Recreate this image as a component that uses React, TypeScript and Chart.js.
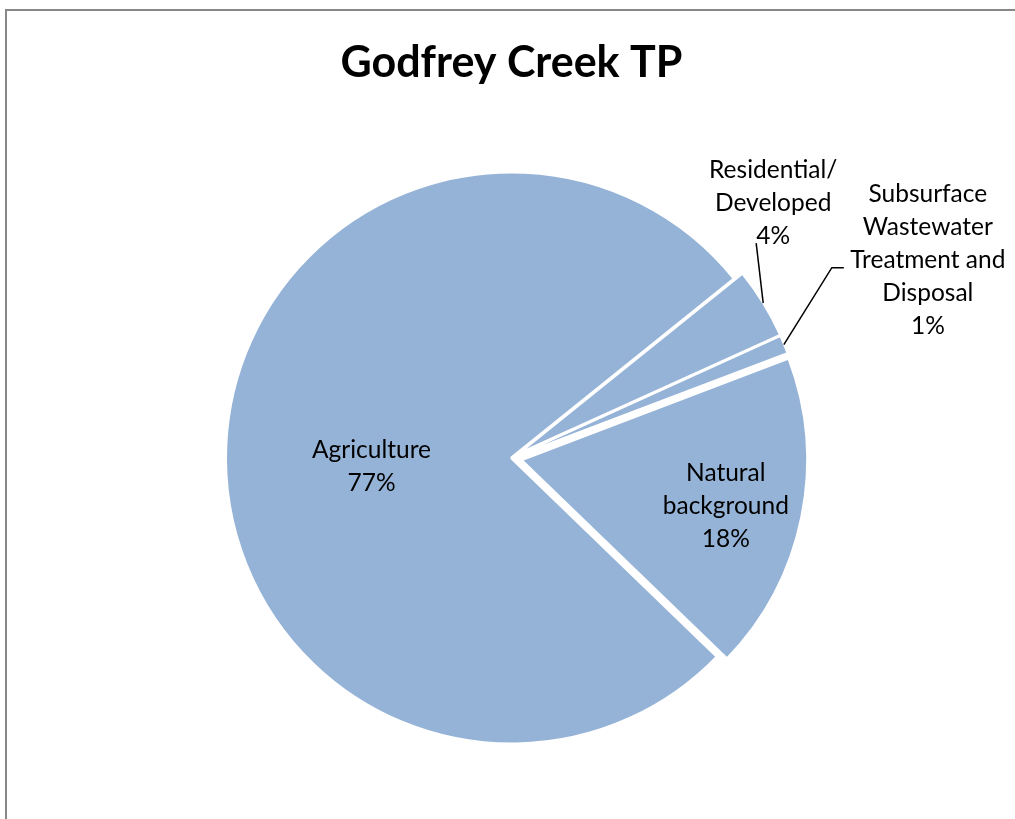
import React, { useEffect, useRef } from 'react';
import { Chart, registerables } from 'chart.js';

Chart.register(...registerables);

// ---- data ----
const chartTitle = 'Godfrey Creek TP';
const categories = [
  'Agriculture',
  'Residential/Developed',
  'Subsurface Wastewater Treatment and Disposal',
  'Natural background',
];
const categoryLabelLines = [
  ['Agriculture'],
  ['Residential/', 'Developed'],
  ['Subsurface', 'Wastewater', 'Treatment and', 'Disposal'],
  ['Natural', 'background'],
];
const values = [77, 4, 1, 18];

// ---- style ----
const FONT = 'Lato, "Open Sans", sans-serif';
const SLICE_COLOR = '#95B3D7';
const LABEL_SIZE = 24.5;
const LINE_HEIGHT = 33;
const explodeDist = [0, 9.5, 9, 10];
const borderWidths = [3, 2, 1.5, 2.5];
type Placement = { inside: boolean; frac?: number; dx: number; dy: number; leader?: number[][] };
const labelPlacement: Placement[] = [
  { inside: true, frac: 0.49, dx: 0, dy: 15 },
  { inside: false, dx: 10, dy: -100, leader: [[-17, 40]] },
  { inside: false, dx: 144, dy: -85, leader: [[-96, 8], [-84, 8]] },
  { inside: true, frac: 0.73, dx: 0, dy: 4 },
];

const framePlugin = {
  id: 'chartFrame',
  beforeDraw(chart: any) {
    const ctx = chart.ctx;
    ctx.save();
    ctx.fillStyle = '#ffffff';
    ctx.fillRect(0, 0, chart.width, chart.height);
    ctx.strokeStyle = '#888888';
    ctx.lineWidth = 2;
    ctx.beginPath();
    ctx.moveTo(6, chart.height + 5);
    ctx.lineTo(6, 10);
    ctx.lineTo(chart.width + 5, 10);
    ctx.stroke();
    ctx.restore();
  },
};

const explodePlugin = {
  id: 'explodeSlices',
  beforeDatasetDraw(chart: any, args: any) {
    const ctx = chart.ctx;
    args.meta.data.forEach((arc: any, i: number) => {
      const d = explodeDist[i] || 0;
      const mid = (arc.startAngle + arc.endAngle) / 2;
      ctx.save();
      ctx.translate(Math.cos(mid) * d, Math.sin(mid) * d);
      arc.draw(ctx);
      ctx.restore();
    });
    return false;
  },
};

const labelPlugin = {
  id: 'sliceLabels',
  afterDatasetsDraw(chart: any) {
    const ctx = chart.ctx;
    const meta = chart.getDatasetMeta(0);
    const total = values.reduce((a, b) => a + b, 0);
    meta.data.forEach((arc: any, i: number) => {
      const { x, y, startAngle, endAngle, outerRadius } = arc.getProps(
        ['x', 'y', 'startAngle', 'endAngle', 'outerRadius'],
        true
      );
      const mid = (startAngle + endAngle) / 2;
      const d = explodeDist[i] || 0;
      const vx = x + Math.cos(mid) * d;
      const vy = y + Math.sin(mid) * d;
      const p = labelPlacement[i];
      const lines = [...categoryLabelLines[i], `${Math.round((values[i] / total) * 100)}%`];
      let cx: number;
      let cy: number;
      ctx.save();
      if (p.inside) {
        const r = outerRadius * (p.frac || 0.5);
        cx = vx + Math.cos(mid) * r + p.dx;
        cy = vy + Math.sin(mid) * r + p.dy;
      } else {
        const ex = vx + Math.cos(mid) * outerRadius;
        const ey = vy + Math.sin(mid) * outerRadius;
        cx = ex + p.dx;
        cy = ey + p.dy;
        ctx.beginPath();
        ctx.moveTo(ex, ey);
        (p.leader || []).forEach((pt) => ctx.lineTo(cx + pt[0], cy + pt[1]));
        ctx.strokeStyle = '#000';
        ctx.lineWidth = 1.5;
        ctx.stroke();
      }
      ctx.fillStyle = '#000';
      ctx.font = `${LABEL_SIZE}px ${FONT}`;
      ctx.textAlign = 'center';
      ctx.textBaseline = 'middle';
      const startY = cy - ((lines.length - 1) * LINE_HEIGHT) / 2;
      lines.forEach((ln, k) => ctx.fillText(ln, cx, startY + k * LINE_HEIGHT));
      ctx.restore();
    });
  },
};

export default function App() {
  const canvasRef = useRef<HTMLCanvasElement | null>(null);

  useEffect(() => {
    if (!canvasRef.current) return;
    const chart = new Chart(canvasRef.current, {
      type: 'pie',
      data: {
        labels: categories,
        datasets: [
          {
            data: values,
            backgroundColor: SLICE_COLOR,
            borderColor: '#ffffff',
            borderWidth: borderWidths,
            radius: 286,
            rotation: 134,
          } as any,
        ],
      },
      options: {
        responsive: false,
        animation: false,
        devicePixelRatio: 1,
        rotation: 134,
        layout: { padding: { left: 8, right: 0, top: 0, bottom: 0 } },
        plugins: {
          legend: { display: false },
          tooltip: { enabled: false },
          title: {
            display: true,
            text: chartTitle,
            color: '#000',
            font: { family: FONT, size: 43, weight: 'bold', lineHeight: 1.2 },
            padding: { top: 37, bottom: 8.4 },
          },
        },
      } as any,
      plugins: [framePlugin, explodePlugin, labelPlugin],
    });
    return () => chart.destroy();
  }, []);

  return (
    <div
      style={{
        position: 'fixed',
        left: 0,
        top: 0,
        width: 1015,
        height: 819,
        background: '#fff',
        overflow: 'hidden',
      }}
    >
      <canvas
        ref={canvasRef}
        width={1015}
        height={819}
        style={{ display: 'block', width: 1015, height: 819 }}
      />
    </div>
  );
}
